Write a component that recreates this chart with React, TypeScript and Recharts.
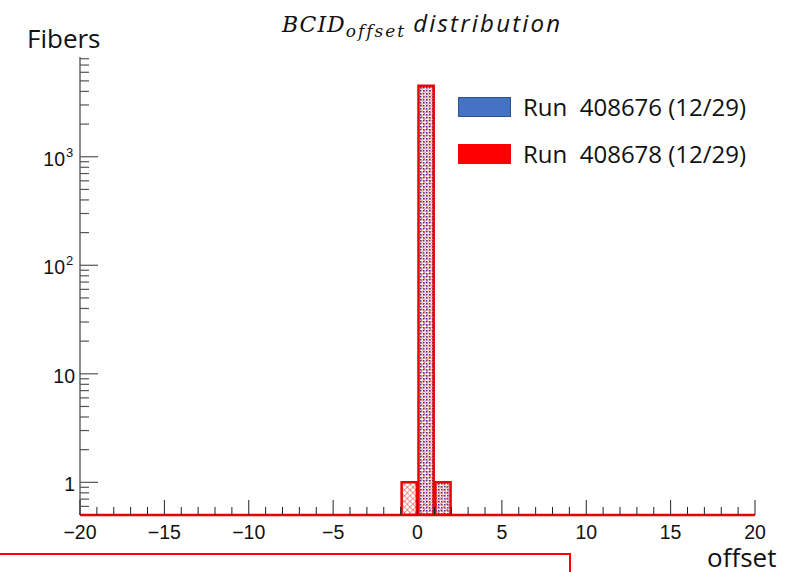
import React from 'react'
import { ComposedChart, Bar, XAxis, YAxis } from 'recharts'

// bin centres (bin width 1) and counts
const redBins = [-0.5, 0.5, 1.5]
const redCounts = [1, 4500, 1]
const blueBins = [0.5, 1.5]
const blueCounts = [4400, 1]

const xTicks = [-20, -19, -18, -17, -16, -15, -14, -13, -12, -11, -10, -9, -8, -7, -6, -5, -4, -3, -2, -1,
  0, 1, 2, 3, 4, 5, 6, 7, 8, 9, 10, 11, 12, 13, 14, 15, 16, 17, 18, 19, 20]
const xLabels = [-20, -15, -10, -5, 0, 5, 10, 15, 20]
const yTicks = [0.6, 0.7, 0.8, 0.9, 1, 2, 3, 4, 5, 6, 7, 8, 9, 10, 20, 30, 40, 50, 60, 70, 80, 90,
  100, 200, 300, 400, 500, 600, 700, 800, 900, 1000, 2000, 3000, 4000, 5000, 6000, 7000, 8000]
const yLabels = [1, 10, 100, 1000]

const seriesNames = ['Run  408676 (12/29)', 'Run  408678 (12/29)']
const seriesColors = ['#4472C4', '#FF0000']

const rows = [...new Set([...redBins, ...blueBins])].sort((a, b) => a - b).map(x => {
  const ri = redBins.indexOf(x)
  const bi = blueBins.indexOf(x)
  return { x, red: ri >= 0 ? redCounts[ri] : null, blue: bi >= 0 ? blueCounts[bi] : null }
})

const W = 803
const H = 572
const tickFont = '"Liberation Sans", Arial, sans-serif'
const textFont = '"Open Sans", sans-serif'

const XTick = (props: any) => {
  const { x, y, payload } = props
  const v = payload.value
  const major = xLabels.includes(v)
  return (
    <g>
      <line x1={x} x2={x} y1={y} y2={y - (major ? 15 : 8)} stroke="#222" strokeWidth={1} />
      {major && (
        <text x={x} y={y + 24} textAnchor="middle" fontSize={19.5} fontFamily={tickFont} fill="#111">
          {v < 0 ? `\u2212${Math.abs(v)}` : v}
        </text>
      )}
    </g>
  )
}

const YTick = (props: any) => {
  const { x, y, payload } = props
  const v = payload.value
  const major = yLabels.includes(v)
  const pow = v >= 100
  return (
    <g>
      <line x1={x} x2={x + (major ? 18 : 9)} y1={y} y2={y} stroke="#555" strokeWidth={1.2} />
      {major && (
        <text x={x - (pow ? 15 : 5)} y={y + 9} textAnchor="end" fontSize={19.5} fontFamily={tickFont} fill="#111">
          {pow ? '10' : v}
        </text>
      )}
      {major && pow && (
        <text x={x - 14} y={y} textAnchor="start" fontSize={13} fontFamily={tickFont} fill="#111">
          {Math.round(Math.log10(v))}
        </text>
      )}
    </g>
  )
}

export default function App() {
  return (
    <div style={{ position: 'absolute', left: 0, top: 0, width: W, height: H, background: '#fff', overflow: 'hidden' }}>
      {/* title */}
      <div style={{ position: 'absolute', left: 282, top: 3, whiteSpace: 'nowrap', color: '#111', lineHeight: '40px' }}>
        <span style={{ fontFamily: '"DejaVu Serif", serif', fontStyle: 'italic', fontSize: 22, letterSpacing: 1 }}>BCID</span>
        <span style={{ fontFamily: '"DejaVu Serif", serif', fontStyle: 'italic', fontSize: 17, letterSpacing: 2, position: 'relative', top: 5 }}>offset</span>
        <span style={{ fontFamily: textFont, fontStyle: 'italic', fontSize: 24, letterSpacing: 2.2, marginLeft: 7 }}>distribution</span>
      </div>
      <div style={{ position: 'absolute', left: 27, top: 25, fontFamily: textFont, fontSize: 26, lineHeight: 1, color: '#111' }}>
        Fibers
      </div>
      <div style={{ position: 'absolute', left: 707, top: 546, fontFamily: textFont, fontSize: 26, lineHeight: '22px', color: '#111' }}>
        offset
      </div>
      {/* slide annotation box edge */}
      <div style={{ position: 'absolute', left: 0, top: 553, width: 569, height: 30, borderTop: '2px solid #f00', borderRight: '2px solid #f00' }} />

      {/* legend */}
      <div style={{ position: 'absolute', left: 458, top: 83, fontFamily: textFont, fontSize: 24, color: '#111', zIndex: 2 }}>
        {seriesNames.map((n, i) => (
          <div key={n} style={{ display: 'flex', alignItems: 'center', height: 47 }}>
            <div style={{
              width: 53, height: 20, background: seriesColors[i],
              border: i === 0 ? '1px solid #2F528F' : 'none', boxSizing: 'border-box', marginRight: 12,
            }} />
            <span style={{ whiteSpace: 'pre' }}>{n}</span>
          </div>
        ))}
      </div>

      <ComposedChart width={W} height={H} data={rows} margin={{ top: 57, right: 48, bottom: 27, left: 30 }}>
        <defs>
          <pattern id="redHatch" width="4" height="4" patternUnits="userSpaceOnUse" patternTransform="rotate(45)">
            <line x1="0" y1="0" x2="0" y2="4" stroke="#e02020" strokeWidth="0.9" />
            <line x1="0" y1="0" x2="4" y2="0" stroke="#e02020" strokeWidth="0.9" />
          </pattern>
          <pattern id="blueHatch" width="3" height="3" patternUnits="userSpaceOnUse">
            <rect x="0" y="0" width="1.5" height="1.5" fill="#3030a8" />
          </pattern>
        </defs>
        <XAxis
          xAxisId="b" dataKey="x" type="number" domain={[-20, 20]} ticks={xTicks} interval={0}
          allowDataOverflow tick={<XTick />} tickLine={false} tickSize={0} tickMargin={0} height={30}
          axisLine={{ stroke: '#e00', strokeWidth: 2.5 }}
        />
        <XAxis
          xAxisId="t" dataKey="x" type="number" domain={[-20, 20]} ticks={xTicks} interval={0}
          orientation="top" allowDataOverflow tick={false} tickLine={false} height={0}
          axisLine={{ stroke: '#666', strokeWidth: 1.2 }}
        />
        <YAxis
          yAxisId="l" type="number" scale="log" domain={[0.5, 8300]} allowDataOverflow ticks={yTicks}
          interval={0} tick={<YTick />} tickLine={false} tickSize={0} tickMargin={0} width={50}
          axisLine={{ stroke: '#666', strokeWidth: 1.5 }}
        />
        <YAxis
          yAxisId="r" orientation="right" type="number" domain={[0, 1]} tick={false} tickLine={false}
          width={0} axisLine={{ stroke: '#666', strokeWidth: 1.2 }}
        />
        <Bar
          xAxisId="t" yAxisId="l" dataKey="blue" barSize={16.9} fill="url(#blueHatch)"
          stroke="#3333aa" strokeWidth={1} isAnimationActive={false} legendType="none"
        />
        <Bar
          xAxisId="b" yAxisId="l" dataKey="red" barSize={16.9} fill="url(#redHatch)"
          stroke="#e00" strokeWidth={2.5} isAnimationActive={false} legendType="none"
        />
      </ComposedChart>
    </div>
  )
}
